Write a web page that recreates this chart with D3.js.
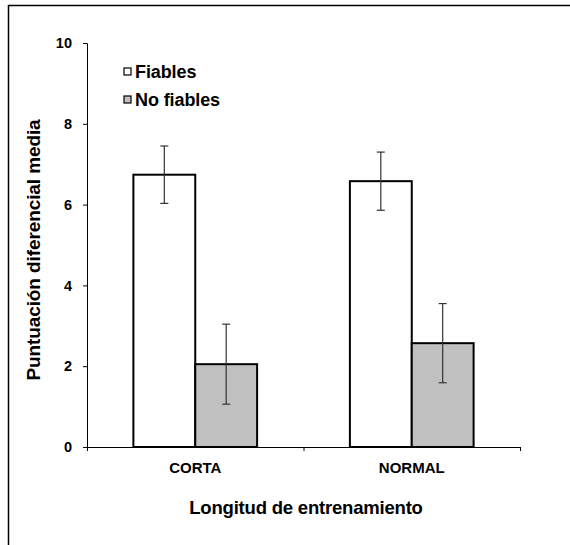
<!DOCTYPE html>
<html>
<head>
<meta charset="utf-8">
<script src="https://cdn.jsdelivr.net/npm/d3@7"></script>
<style>
  body { margin: 0; background: #fff; }
  text { font-family: "Liberation Sans", Arial, sans-serif; font-weight: bold; fill: #000; }
</style>
</head>
<body>
<div id="chart"></div>
<script>
// Data
var categories = ["CORTA", "NORMAL"];
var seriesNames = ["Fiables", "No fiables"];
var fiables = [6.74, 6.58];
var fiablesErr = [0.71, 0.72];
var noFiables = [2.05, 2.57];
var noFiablesErr = [0.99, 0.98];
var yTicks = [0, 2, 4, 6, 8, 10];
var seriesColors = ["#ffffff", "#c0c0c0"];

var svgWidth = 570;
var svgHeight = 545;

var margin = { top: 43, right: 50, bottom: 98, left: 87 };
var width = svgWidth - margin.left - margin.right;
var height = svgHeight - margin.top - margin.bottom;

var svg = d3.select("#chart")
  .append("svg")
  .attr("width", svgWidth)
  .attr("height", svgHeight);

// outer frame (only top and left visible in the picture)
svg.append("rect")
  .attr("x", 8.5)
  .attr("y", 5.5)
  .attr("width", 600)
  .attr("height", 600)
  .attr("fill", "none")
  .attr("stroke", "#000")
  .attr("stroke-width", 1.5);

var chartGroup = svg.append("g")
  .attr("transform", `translate(${margin.left}, ${margin.top})`);

// Build rows from the arrays
var rows = categories.map(function(c, i) {
  return {
    cat: c,
    values: [
      { series: seriesNames[0], value: fiables[i], err: fiablesErr[i] },
      { series: seriesNames[1], value: noFiables[i], err: noFiablesErr[i] }
    ]
  };
});

// Scales
var x0 = d3.scaleBand()
  .domain(categories)
  .range([0, width])
  .padding(0);

var x1 = d3.scaleBand()
  .domain(seriesNames)
  .range([0, x0.bandwidth()])
  .paddingInner(0)
  .paddingOuter(0.75);

var yScale = d3.scaleLinear()
  .domain([0, 10])
  .range([height, 0]);

var color = d3.scaleOrdinal()
  .domain(seriesNames)
  .range(seriesColors);

// Y axis
var leftAxis = d3.axisLeft(yScale)
  .tickValues(yTicks)
  .tickSize(4)
  .tickPadding(11)
  .tickFormat(d3.format("d"));

var yAxisG = chartGroup.append("g")
  .call(leftAxis);
yAxisG.select(".domain").attr("stroke", "#000");
yAxisG.selectAll("text").attr("font-size", 14.5).style("font-family", "'Liberation Sans', Arial, sans-serif").style("font-weight", "bold");

// X axis with ticks between the categories
var bottomAxis = d3.axisBottom(x0)
  .tickSize(0)
  .tickPadding(15);

var xAxisG = chartGroup.append("g")
  .attr("transform", `translate(0, ${height})`)
  .call(bottomAxis);
xAxisG.select(".domain").attr("stroke", "#000");
xAxisG.selectAll("text").attr("font-size", 15).style("font-family", "'Liberation Sans', Arial, sans-serif").style("font-weight", "bold");

var bounds = [0].concat(categories.map(function(c) { return x0(c) + x0.bandwidth(); }));
chartGroup.append("g").selectAll("line")
  .data(bounds)
  .enter()
  .append("line")
  .attr("x1", d => d + 0.5)
  .attr("x2", d => d + 0.5)
  .attr("y1", height)
  .attr("y2", height + 4)
  .attr("stroke", "#000");

// Bars
var groups = chartGroup.selectAll(".grp")
  .data(rows)
  .enter()
  .append("g")
  .attr("class", "grp")
  .attr("transform", d => `translate(${x0(d.cat)}, 0)`);

groups.selectAll("rect")
  .data(d => d.values)
  .enter()
  .append("rect")
  .attr("x", d => x1(d.series))
  .attr("y", d => yScale(d.value))
  .attr("width", x1.bandwidth())
  .attr("height", d => height - yScale(d.value))
  .attr("fill", d => color(d.series))
  .attr("stroke", "#000")
  .attr("stroke-width", 2);

// Error bars
var errs = groups.selectAll(".err")
  .data(d => d.values)
  .enter()
  .append("g")
  .attr("class", "err")
  .attr("stroke", "#333")
  .attr("stroke-width", 1.2);

errs.append("line")
  .attr("x1", d => x1(d.series) + x1.bandwidth() / 2)
  .attr("x2", d => x1(d.series) + x1.bandwidth() / 2)
  .attr("y1", d => yScale(d.value + d.err))
  .attr("y2", d => yScale(d.value - d.err));

errs.append("line")
  .attr("x1", d => x1(d.series) + x1.bandwidth() / 2 - 4)
  .attr("x2", d => x1(d.series) + x1.bandwidth() / 2 + 4)
  .attr("y1", d => yScale(d.value + d.err))
  .attr("y2", d => yScale(d.value + d.err));

errs.append("line")
  .attr("x1", d => x1(d.series) + x1.bandwidth() / 2 - 4)
  .attr("x2", d => x1(d.series) + x1.bandwidth() / 2 + 4)
  .attr("y1", d => yScale(d.value - d.err))
  .attr("y2", d => yScale(d.value - d.err));

// Legend
var legend = chartGroup.selectAll(".legend")
  .data(seriesNames)
  .enter()
  .append("g")
  .attr("class", "legend")
  .attr("transform", (d, i) => `translate(37, ${25 + i * 28})`);

legend.append("rect")
  .attr("width", 7)
  .attr("height", 7)
  .attr("fill", d => color(d))
  .attr("stroke", "#000")
  .attr("stroke-width", 1.2);

legend.append("text")
  .attr("x", 11)
  .attr("y", 9.5)
  .attr("font-size", 18)
  .attr("letter-spacing", -0.1)
  .text(d => d);

// Axis titles
svg.append("text")
  .attr("transform", "rotate(-90)")
  .attr("x", -250)
  .attr("y", 40)
  .attr("text-anchor", "middle")
  .attr("font-size", 19)
  .attr("letter-spacing", -0.1)
  .text("Puntuación diferencial media");

svg.append("text")
  .attr("x", 306)
  .attr("y", 514)
  .attr("text-anchor", "middle")
  .attr("font-size", 18.5)
  .attr("letter-spacing", -0.2)
  .text("Longitud de entrenamiento");
</script>
</body>
</html>
